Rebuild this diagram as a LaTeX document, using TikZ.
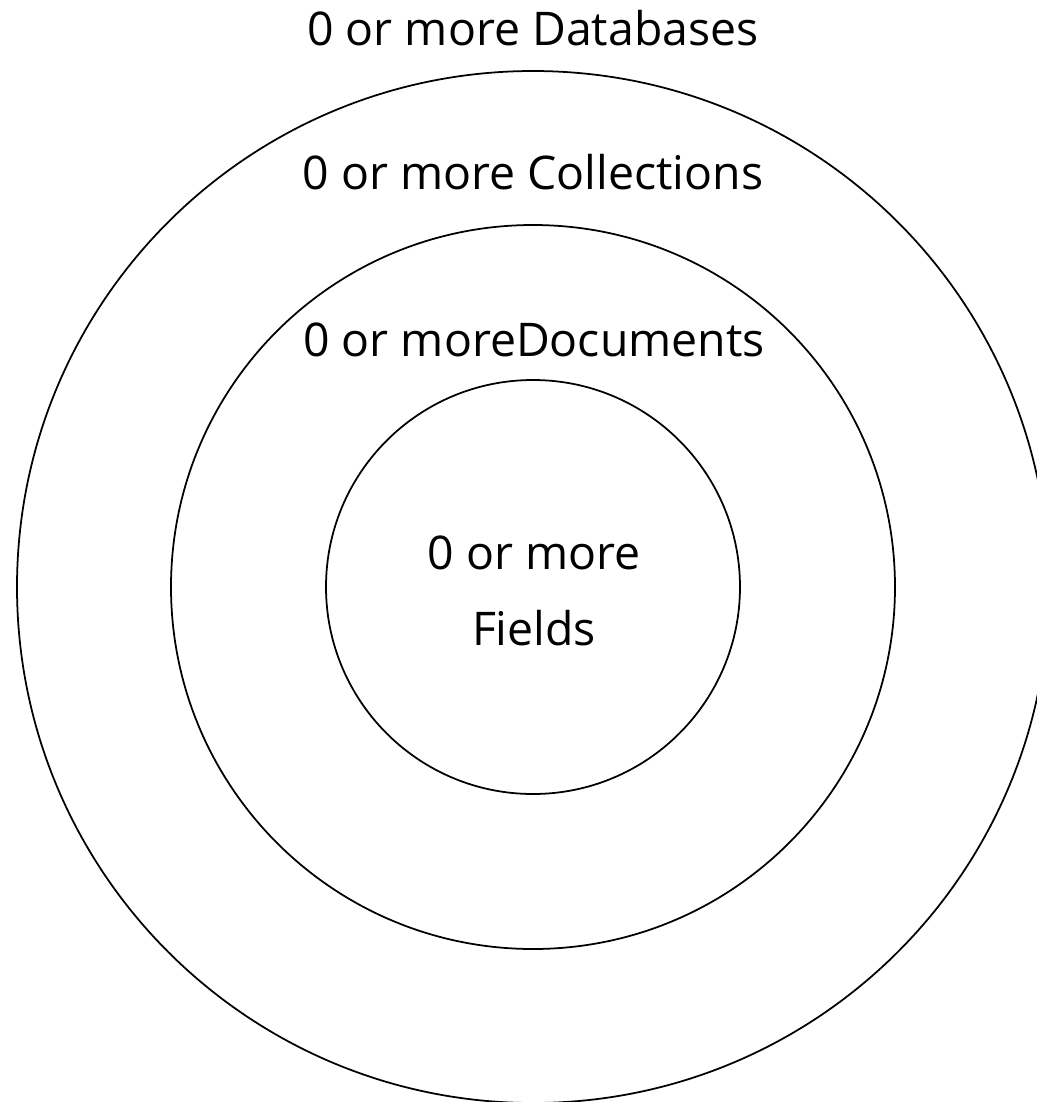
\documentclass[tikz,border=0pt]{standalone}
\usepackage{fontspec}
\setmainfont{Open Sans}
\usepackage{tikz}
\usepackage{tkz-euclide}
\tikzset{lbl/.style={font=\fontsize{13.2}{18}\selectfont,inner sep=0pt,align=center}}

\begin{document}
\begin{tikzpicture}[line width=0.45pt]
\clip(0,0) rectangle (10.37,-11.02);
\tkzDefPoints{5.33/-5.87/O,0.17/-5.87/A,1.71/-5.87/B,3.26/-5.87/C}
\tkzDrawCircle[black,line width=0.5pt](O,A)
\tkzDrawCircle[black,line width=0.5pt](O,B)
\tkzDrawCircle[black,line width=0.5pt](O,C)
\node[lbl] (dbs) at (5.33,-0.28) {0 or more Databases};
\node[lbl] (coll) at (5.33,-1.72) {0 or more Collections};
\node[lbl] (docs) at (5.34,-3.40) {0 or moreDocuments};
\node[lbl] (flds) at (5.34,-5.91) {0 or more\\[0.12cm]Fields};
\end{tikzpicture}
\end{document}
